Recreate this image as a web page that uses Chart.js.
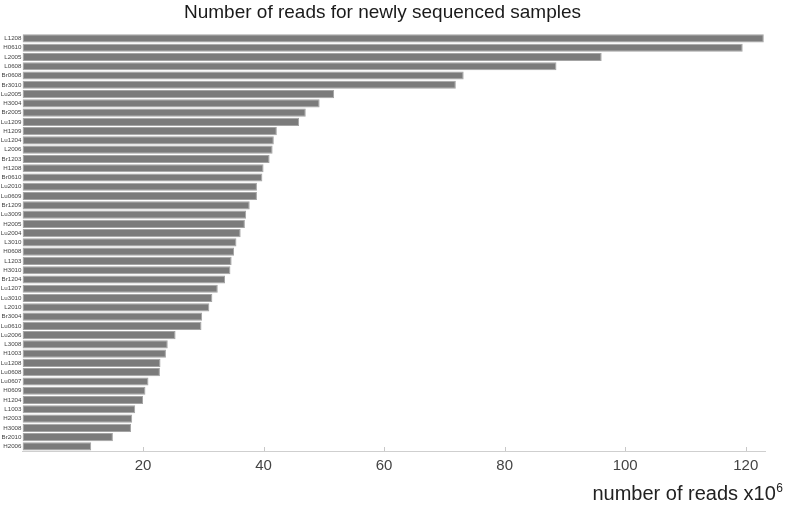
<!DOCTYPE html>
<html>
<head>
<meta charset="utf-8">
<script src="https://cdn.jsdelivr.net/npm/chart.js@4"></script>
<style>
  html, body { margin: 0; padding: 0; background: #fff; }
  #wrap { width: 785px; height: 507px; position: relative; }
</style>
</head>
<body>
<div id="wrap"><canvas id="readsChart"></canvas></div>
<script>
// Samples, top to bottom
const sampleLabels = [
    'L1208', 'H0610', 'L2005', 'L0608', 'Br0608', 'Br3010', 'Lu2005', 'H3004', 'Br2005',
    'Lu1209', 'H1209', 'Lu1204', 'L2006', 'Br1203', 'H1208', 'Br0610', 'Lu2010', 'Lu0609',
    'Br1209', 'Lu3009', 'H2005', 'Lu2004', 'L3010', 'H0608', 'L1203', 'H3010', 'Br1204',
    'Lu1207', 'Lu3010', 'L2010', 'Br3004', 'Lu0610', 'Lu2006', 'L3008', 'H1003', 'Lu1208',
    'Lu0608', 'Lu0607', 'H0609', 'H1204', 'L1003', 'H2003', 'H3008', 'Br2010', 'H2006'
];

// Millions of reads
const readCounts = [
    123.0, 119.5, 96.1, 88.6, 73.2, 71.9, 51.7, 49.3, 47.0,
    45.9, 42.2, 41.7, 41.5, 41.0, 40.0, 39.8, 38.9, 38.9,
    37.7, 37.1, 36.9, 36.2, 35.5, 35.1, 34.7, 34.5, 33.6,
    32.4, 31.5, 31.0, 29.8, 29.7, 25.4, 24.1, 23.8, 22.9,
    22.8, 20.9, 20.4, 20.0, 18.7, 18.2, 18.0, 15.0, 11.4
];

const xTickValues = [20, 40, 60, 80, 100, 120];
const xMin = 0;
const xMax = 123.2;

const chartTitle = 'Number of reads for newly sequenced samples';
const axisTitle = 'number of reads x10';
const axisTitleExp = '6';

// Short tick marks pointing into the plot, plus the axis title with its exponent
const extrasPlugin = {
    id: 'extras',
    afterDraw(chart) {
        const ctx = chart.ctx;
        const xScale = chart.scales.x;
        const bottom = chart.chartArea.bottom;
        ctx.save();
        ctx.strokeStyle = '#c8c8c8';
        ctx.lineWidth = 1;
        xTickValues.forEach(v => {
            const px = Math.round(xScale.getPixelForValue(v)) + 0.5;
            ctx.beginPath();
            ctx.moveTo(px, bottom);
            ctx.lineTo(px, bottom - 4);
            ctx.stroke();
        });

        // axis title, right aligned to the canvas edge
        ctx.fillStyle = '#222';
        ctx.textBaseline = 'alphabetic';
        ctx.font = '12px "Liberation Sans", Arial, sans-serif';
        const expWidth = ctx.measureText(axisTitleExp).width;
        const right = chart.width - 2;
        const base = 500;
        ctx.textAlign = 'right';
        ctx.fillText(axisTitleExp, right, base - 8);
        ctx.font = '20px "Liberation Sans", Arial, sans-serif';
        ctx.fillText(axisTitle, right - expWidth - 0.5, base);
        ctx.restore();
    }
};

const chartCtx = document.getElementById('readsChart').getContext('2d');

new Chart(chartCtx, {
    type: 'bar',
    data: {
        labels: sampleLabels,
        datasets: [{
            data: readCounts,
            backgroundColor: '#7b7b7b',
            borderColor: '#a4a4a4',
            borderWidth: 1,
            borderSkipped: false,
            categoryPercentage: 0.88,
            barPercentage: 1.0
        }]
    },
    options: {
        indexAxis: 'y',
        responsive: true,
        maintainAspectRatio: false,
        animation: false,
        layout: { padding: { left: 0, right: 20, top: 0, bottom: 0 } },
        plugins: {
            legend: { display: false },
            tooltip: { enabled: false },
            title: {
                display: true,
                text: chartTitle,
                color: '#1a1a1a',
                font: { family: '"Liberation Sans", Arial, sans-serif', size: 19, weight: 'normal', lineHeight: 1.2 },
                padding: { top: 1, bottom: 10 }
            }
        },
        scales: {
            x: {
                type: 'linear',
                min: xMin,
                max: xMax,
                afterBuildTicks: scale => {
                    scale.ticks = xTickValues.map(v => ({ value: v }));
                },
                afterFit: scale => { scale.height = 56; },
                grid: { display: false, drawTicks: false },
                border: { display: true, color: '#cfcfcf', width: 1 },
                ticks: {
                    color: '#444',
                    padding: 6,
                    maxRotation: 0,
                    font: { family: '"Liberation Sans", Arial, sans-serif', size: 15 }
                }
            },
            y: {
                afterFit: scale => { scale.width = 22.5; },
                grid: { display: false, drawTicks: false },
                border: { display: false },
                ticks: {
                    autoSkip: false,
                    color: '#444',
                    padding: 1,
                    font: { family: '"Liberation Sans", Arial, sans-serif', size: 6.2 }
                }
            }
        }
    },
    plugins: [extrasPlugin]
});
</script>
</body>
</html>
